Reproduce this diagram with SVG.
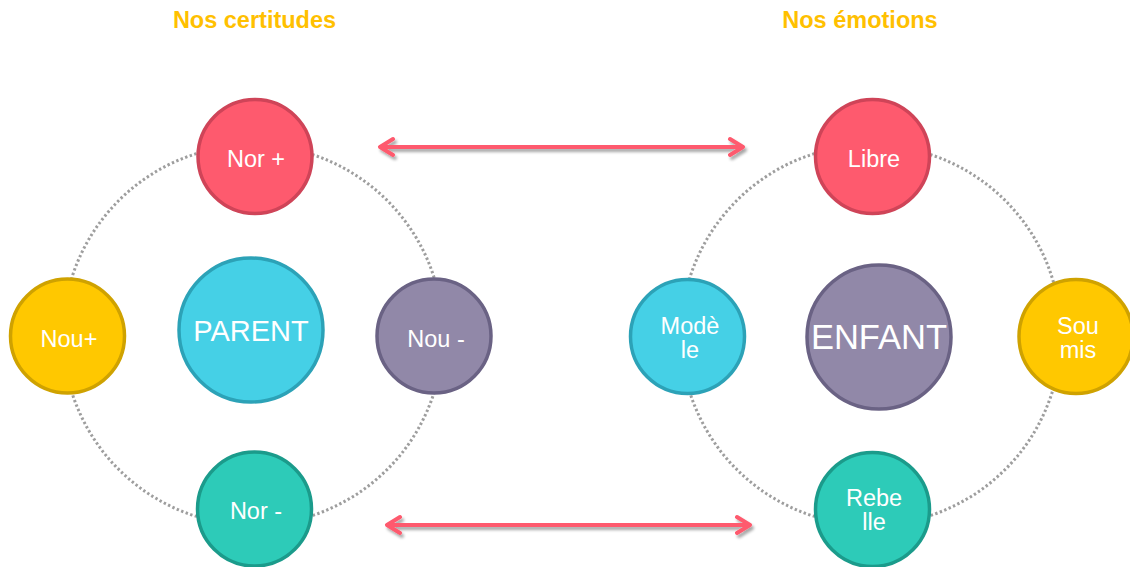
<svg xmlns="http://www.w3.org/2000/svg" width="1130" height="567" viewBox="0 0 1130 567">
<defs>
<filter id="sh" x="-10%" y="-100%" width="120%" height="300%">
<feGaussianBlur in="SourceAlpha" stdDeviation="1.6"/>
<feOffset dx="2" dy="3" result="b"/>
<feComponentTransfer><feFuncA type="linear" slope="0.35"/></feComponentTransfer>
<feMerge><feMergeNode/><feMergeNode in="SourceGraphic"/></feMerge>
</filter>
</defs>
<style>
text{font-family:"Liberation Sans",Arial,sans-serif;fill:#fff;text-anchor:middle}
.title{fill:#FFC000;font-weight:bold;font-size:23.5px}
.lbl{font-size:23.5px}
.ring{fill:none;stroke:#9E9E9E;stroke-width:3;stroke-dasharray:2.4 2.4}
.red{fill:#FE5A6E;stroke:#CF4458;stroke-width:3.5}
.yel{fill:#FFC800;stroke:#CFA200;stroke-width:3.5}
.cya{fill:#45D0E6;stroke:#2CA2B7;stroke-width:3.5}
.pur{fill:#9188A8;stroke:#6A6284;stroke-width:3.5}
.tea{fill:#2DCBB8;stroke:#1B9B8B;stroke-width:3.5}
.arr{fill:none;stroke:#FE5A6E;stroke-width:4;stroke-linecap:round;stroke-linejoin:round}
</style>
<rect width="1130" height="567" fill="#fff"/>
<text class="title" x="254.5" y="28">Nos certitudes</text>
<text class="title" x="860" y="28">Nos émotions</text>
<g id="connectors">
<circle class="ring" cx="253" cy="335" r="190"/>
<circle class="ring" cx="871" cy="335" r="190"/>
<g filter="url(#sh)">
<path class="arr" d="M380 147 H743 M393 139 L380 147 L393 155 M730 139 L743 147 L730 155"/>
<path class="arr" d="M387 525 H750 M400 517 L387 525 L400 533 M737 517 L750 525 L737 533"/>
</g>
</g>
<g id="nor-plus"><circle class="red" cx="255" cy="156.5" r="57"/><text class="lbl" x="256" y="167">Nor +</text></g>
<g id="nou-plus"><circle class="yel" cx="67.5" cy="336" r="57"/><text class="lbl" x="69" y="346.5">Nou+</text></g>
<g id="parent"><circle class="cya" cx="251" cy="330" r="72"/><text x="251" y="340.5" font-size="29px">PARENT</text></g>
<g id="nou-minus"><circle class="pur" cx="434" cy="336" r="57"/><text class="lbl" x="436" y="346.5">Nou -</text></g>
<g id="nor-minus"><circle class="tea" cx="254.5" cy="509" r="57"/><text class="lbl" x="256" y="518.5">Nor -</text></g>
<g id="libre"><circle class="red" cx="872.5" cy="156.5" r="57"/><text class="lbl" x="874" y="167">Libre</text></g>
<g id="modele"><circle class="cya" cx="687.5" cy="336.5" r="57"/><text class="lbl" x="690" y="334">Modè</text><text class="lbl" x="690" y="358">le</text></g>
<g id="enfant"><circle class="pur" cx="879" cy="337" r="72"/><text x="879" y="349" font-size="34.5px">ENFANT</text></g>
<g id="soumis"><circle class="yel" cx="1076" cy="336.5" r="57"/><text class="lbl" x="1078" y="334">Sou</text><text class="lbl" x="1078" y="358">mis</text></g>
<g id="rebelle"><circle class="tea" cx="872.5" cy="509.5" r="57"/><text class="lbl" x="874" y="506">Rebe</text><text class="lbl" x="874" y="529.5">lle</text></g>
</svg>
